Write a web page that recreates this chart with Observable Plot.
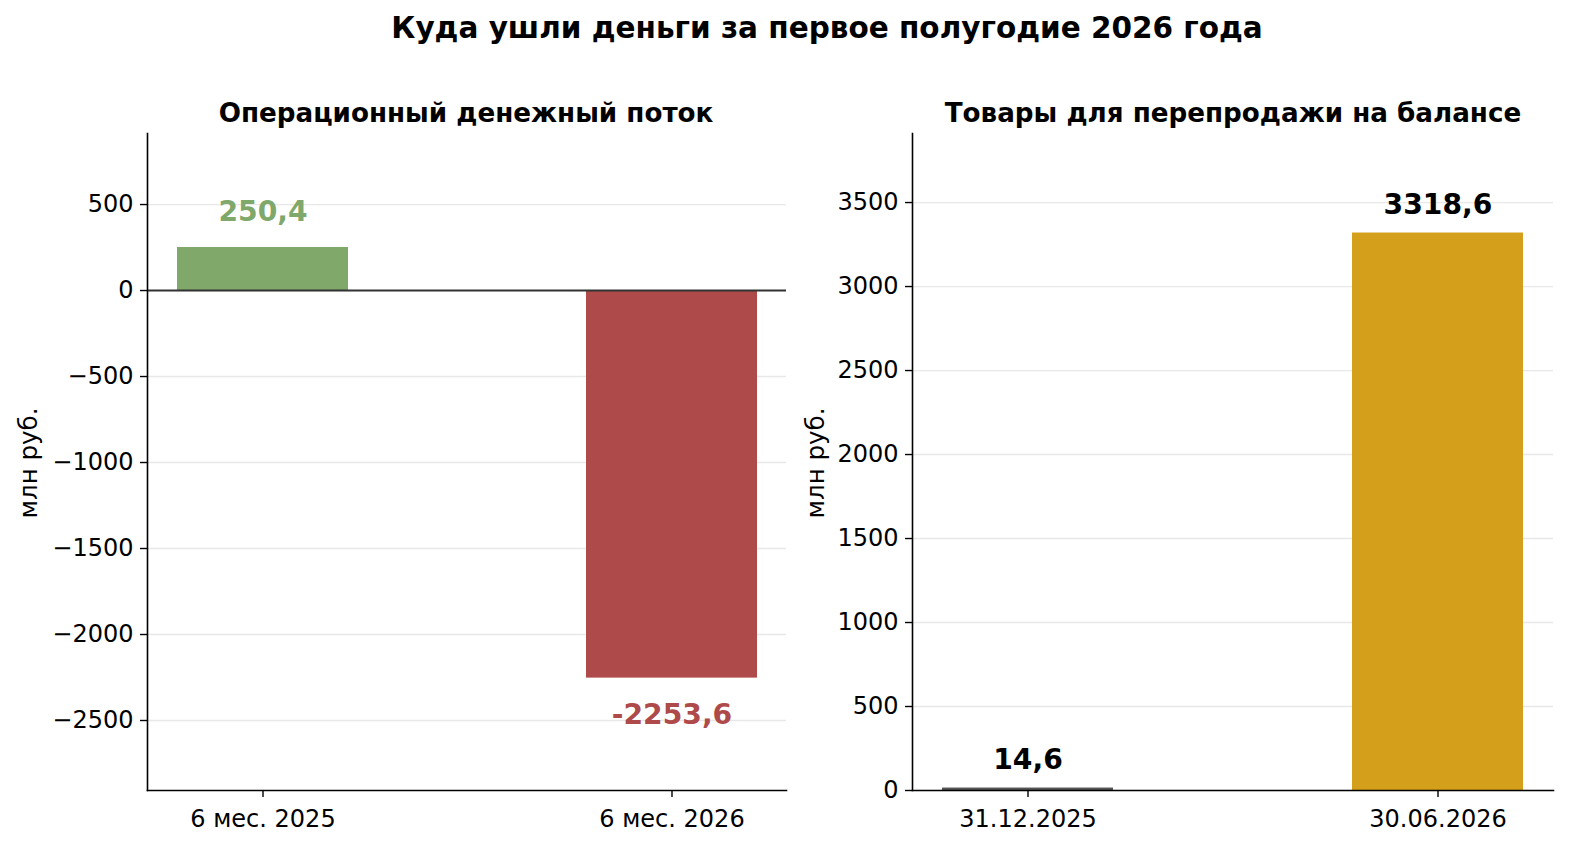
<!DOCTYPE html>
<html><head><meta charset="utf-8">
<script src="https://cdn.jsdelivr.net/npm/d3@7"></script>
<script src="https://cdn.jsdelivr.net/npm/@observablehq/plot@0.6"></script>
<style>
html,body{margin:0;padding:0;width:1590px;height:857px;overflow:hidden;background:#fff;font-family:"DejaVu Sans",sans-serif;}
#wrap{position:relative;width:1590px;height:857px;overflow:hidden;}
.t{position:absolute;font-weight:bold;color:#000;white-space:nowrap;transform:translate(-50%,-50%);}
.p{position:absolute;top:0;line-height:0;}
.yl{position:absolute;font-size:24.5px;transform:translate(-50%,-50%) rotate(-90deg);white-space:nowrap;}
</style></head><body>
<div id="wrap">
<div class="t" style="left:827px;top:28px;font-size:29.5px;">Куда ушли деньги за первое полугодие 2026 года</div>
<div class="t" style="left:466px;top:113px;font-size:26.2px;">Операционный денежный поток</div>
<div class="t" style="left:1233px;top:113px;font-size:26.2px;">Товары для перепродажи на балансе</div>
<div class="yl" style="left:28px;top:463px;">млн руб.</div>
<div class="yl" style="left:815px;top:463px;">млн руб.</div>
<div class="p" id="left" style="left:0px;"></div>
<div class="p" id="right" style="left:800px;"></div>
</div>
<script>
const flowPeriods = ["6 мес. 2025", "6 мес. 2026"];
const flowValues = [250.4, -2253.6];
const flowColors = ["#7fa86a", "#ae4a4a"];
const flowTicks = [-2500, -2000, -1500, -1000, -500, 0, 500];

const stockDates = ["31.12.2025", "30.06.2026"];
const stockValues = [14.6, 3318.6];
const stockColors = ["#555555", "#d4a01b"];
const stockLabelColors = ["#000000", "#000000"];
const stockTicks = [0, 500, 1000, 1500, 2000, 2500, 3000, 3500];

const fmt = v => v.toFixed(1).replace(".", ",");
const tickFmt = d3.format("d");
const flow = flowPeriods.map((p, i) => ({p, v: flowValues[i], c: flowColors[i]}));
const stock = stockDates.map((p, i) => ({p, v: stockValues[i], c: stockColors[i], lc: stockLabelColors[i]}));

const common = {
  height: 857,
  marginTop: 133,
  marginBottom: 67,
  style: {fontFamily: "DejaVu Sans, sans-serif", fontSize: "24px", color: "#000", background: "transparent"},
};
const xOpts = domain => ({type: "band", domain, paddingInner: 0.582, paddingOuter: 0.072, label: null});

const left = Plot.plot({
  ...common, width: 800, marginLeft: 147, marginRight: 14,
  x: xOpts(flowPeriods),
  y: {domain: [-2907, 913], label: null},
  marks: [
    Plot.ruleY(flowTicks, {stroke: "#e8e8e8", strokeWidth: 1.3}),
    Plot.barY(flow, {x: "p", y: "v", fill: "c"}),
    Plot.ruleY([0], {stroke: "#333", strokeWidth: 2}),
    Plot.text(flow, {x: "p", y: d => d.v >= 0 ? d.v + 209 : d.v - 217, text: d => fmt(d.v), fill: "c", fontWeight: "bold", fontSize: 28.2}),
    Plot.axisY({ticks: flowTicks, tickFormat: tickFmt, tickSize: 7, tickPadding: 7, fontSize: 24, strokeWidth: 1.4}),
    Plot.axisX({tickSize: 7, tickPadding: 12, fontSize: 24, strokeWidth: 1.4}),
    Plot.frame({anchor: "left", stroke: "#000", strokeWidth: 1.6}),
    Plot.frame({anchor: "bottom", stroke: "#000", strokeWidth: 1.6}),
  ]
});
document.getElementById("left").append(left);

const right = Plot.plot({
  ...common, width: 790, marginLeft: 112, marginRight: 37,
  x: xOpts(stockDates),
  y: {domain: [0, 3911], label: null},
  marks: [
    Plot.ruleY(stockTicks, {stroke: "#e8e8e8", strokeWidth: 1.3}),
    Plot.barY(stock, {x: "p", y: "v", fill: "c"}),
    Plot.text(stock, {x: "p", y: d => d.v + 167, text: d => fmt(d.v), fill: "lc", fontWeight: "bold", fontSize: 28.2}),
    Plot.axisY({ticks: stockTicks, tickFormat: tickFmt, tickSize: 7, tickPadding: 7, fontSize: 24, strokeWidth: 1.4}),
    Plot.axisX({tickSize: 7, tickPadding: 12, fontSize: 24, strokeWidth: 1.4}),
    Plot.frame({anchor: "left", stroke: "#000", strokeWidth: 1.6}),
    Plot.frame({anchor: "bottom", stroke: "#000", strokeWidth: 1.6}),
  ]
});
document.getElementById("right").append(right);
</script>
</body></html>
